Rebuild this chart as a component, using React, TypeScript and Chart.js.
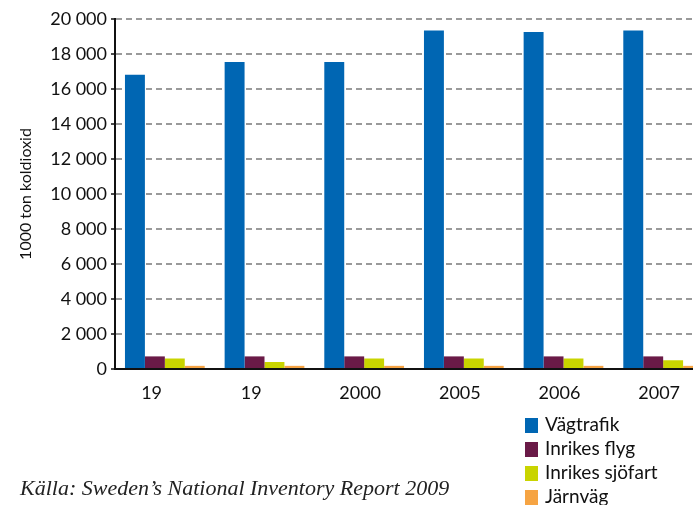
import React, { useEffect, useRef } from "react";
import { Chart, registerables } from "chart.js";

Chart.register(...registerables);

const categories = ["19    ", "19    ", "2000", "2005", "2006", "2007"];
const seriesNames = ["Vägtrafik", "Inrikes flyg", "Inrikes sjöfart", "Järnväg"];
const vagtrafik = [16820, 17540, 17540, 19350, 19260, 19350];
const inrikesFlyg = [720, 720, 720, 720, 720, 720];
const inrikesSjofart = [600, 400, 600, 600, 600, 500];
const jarnvag = [180, 180, 180, 180, 180, 180];
const colors = ["#0066b3", "#6a1a47", "#c9d400", "#f6a443"];
const yTicks = [0, 2000, 4000, 6000, 8000, 10000, 12000, 14000, 16000, 18000, 20000];
const yTitle = "1000 ton koldioxid";
const sourceText = "Källa: Sweden’s National Inventory Report 2009";

const fmt = (v: number) => String(v).replace(/\B(?=(\d{3})+(?!\d))/g, " ");

const overlay = {
  id: "overlay",
  afterDraw(chart: any) {
    const ctx = chart.ctx as CanvasRenderingContext2D;
    ctx.save();
    // legend
    ctx.font = "19px Lato";
    ctx.textBaseline = "middle";
    ctx.textAlign = "left";
    const rows = [425, 449, 473, 497];
    chart.data.datasets.forEach((ds: any, i: number) => {
      ctx.fillStyle = ds.backgroundColor;
      ctx.fillRect(525, rows[i] - 7, 13, 15);
      ctx.fillStyle = "#111";
      ctx.fillText(ds.label, 545, rows[i]);
    });
    // source
    ctx.font = "italic 22px 'Liberation Serif'";
    ctx.fillStyle = "#222";
    ctx.fillText(sourceText, 20, 489);
    ctx.restore();
  },
};

export default function App() {
  const ref = useRef<HTMLCanvasElement>(null);
  useEffect(() => {
    const datasets = [vagtrafik, inrikesFlyg, inrikesSjofart, jarnvag].map((d, i) => ({
      label: seriesNames[i],
      data: d,
      backgroundColor: colors[i],
      borderWidth: 0,
      categoryPercentage: 0.8,
      barPercentage: 1.0,
    }));
    const chart = new Chart(ref.current!, {
      type: "bar",
      data: { labels: categories, datasets },
      plugins: [overlay],
      options: {
        animation: false,
        responsive: false,
        layout: { padding: { top: 19, right: 7, bottom: 106, left: 0 } },
        plugins: { legend: { display: false }, tooltip: { enabled: false } },
        scales: {
          x: {
            grid: { display: false },
            border: { display: true, color: "#111", width: 2 },
            ticks: {
              color: "#111",
              font: { family: "Lato", size: 18 },
              padding: 5,
              labelOffset: -4,
              maxRotation: 0,
              autoSkip: false,
            },
            afterFit: (s: any) => {
              s.height = 30;
            },
          },
          y: {
            min: 0,
            max: 20000,
            afterBuildTicks: (s: any) => {
              s.ticks = yTicks.map((v) => ({ value: v }));
            },
            grid: {
              color: (c: any) => (c.tick && c.tick.value === 0 ? "rgba(0,0,0,0)" : "#9a9a9a"),
              lineWidth: 2,
              drawTicks: true,
              tickLength: 4,
              tickColor: "#111",
              tickWidth: 1.5,
              tickBorderDash: [],
            },
            border: { display: true, color: "#111", width: 2, dash: [6, 4] },
            ticks: {
              color: "#111",
              font: { family: "Lato", size: 18 },
              padding: 4,
              callback: (v: any) => fmt(Number(v)),
            },
            title: {
              display: true,
              text: yTitle,
              color: "#111",
              font: { family: "Lato", size: 16 },
              padding: { top: 16, bottom: 0 },
            },
            afterFit: (s: any) => {
              s.width = 115;
            },
          },
        },
      },
    });
    return () => chart.destroy();
  }, []);
  return (
    <div style={{ position: "fixed", left: 0, top: 0, width: 693, height: 505, overflow: "hidden", background: "#fff" }}>
      <canvas ref={ref} width={720} height={505} style={{ display: "block" }} />
    </div>
  );
}
